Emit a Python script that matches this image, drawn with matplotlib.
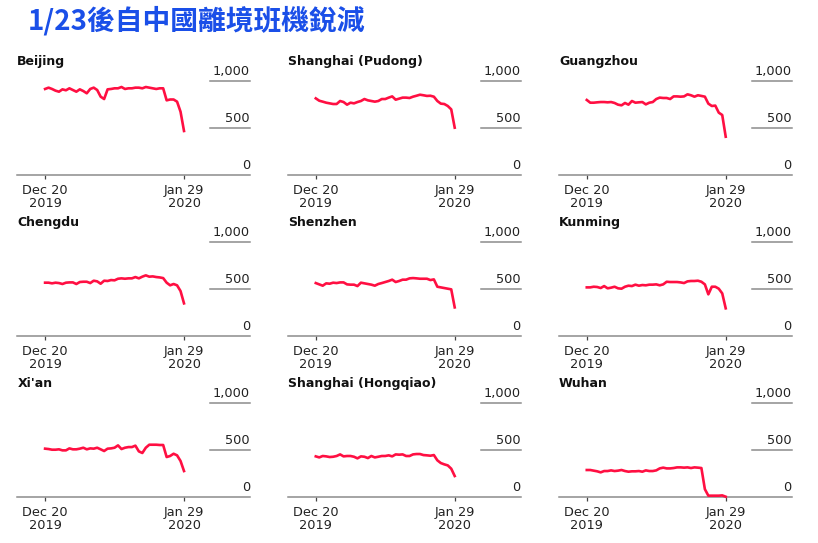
"""
Small multiples: departing flights from Chinese airports, Dec 20 2019 - Jan 29 2020.
"""

import matplotlib

matplotlib.use("Agg")
import matplotlib.pyplot as plt
import pandas as pd

# Daily departing flights
CITIES = [
    "Beijing", "Shanghai (Pudong)", "Guangzhou",
    "Chengdu", "Shenzhen", "Kunming",
    "Xi'an", "Shanghai (Hongqiao)", "Wuhan",
]

beijing = [912, 926, 912, 894, 883, 908, 898, 919, 901, 883, 908, 890, 866, 912,
           926, 901, 830, 805, 908, 912, 919, 919, 933, 912, 919, 919, 926, 926,
           919, 933, 926, 919, 912, 919, 919, 791, 800, 800, 777, 670, 465]
shanghai_pudong = [812, 787, 777, 766, 759, 752, 752, 784, 773, 745, 766, 759, 773,
                   784, 805, 791, 784, 777, 784, 805, 805, 820, 833, 798, 809, 820,
                   820, 816, 830, 840, 851, 845, 838, 840, 830, 784, 756, 752, 731,
                   695, 500]
guangzhou = [795, 766, 766, 770, 773, 773, 770, 773, 763, 745, 738, 763, 745, 784,
             766, 770, 773, 748, 766, 773, 805, 820, 816, 816, 805, 833, 833, 830,
             833, 855, 845, 830, 845, 838, 830, 756, 731, 735, 660, 635, 404]
chengdu = [564, 564, 557, 564, 560, 550, 564, 567, 567, 550, 571, 574, 574, 560,
           585, 578, 553, 585, 582, 592, 589, 606, 610, 606, 610, 610, 624, 610,
           628, 642, 628, 631, 624, 620, 613, 564, 536, 550, 536, 475, 344]
shenzhen = [560, 546, 532, 557, 553, 564, 560, 567, 567, 546, 543, 543, 528, 564,
            557, 550, 543, 532, 550, 560, 571, 582, 596, 571, 582, 596, 596, 610,
            613, 610, 606, 606, 606, 592, 599, 521, 514, 507, 500, 493, 301]
kunming = [514, 514, 521, 518, 507, 528, 504, 511, 521, 504, 500, 521, 532, 528,
           543, 532, 539, 536, 543, 543, 546, 536, 546, 574, 571, 571, 571, 567,
           560, 578, 582, 582, 585, 574, 546, 440, 521, 521, 500, 450, 291]
xian = [511, 507, 500, 500, 504, 493, 493, 514, 504, 504, 511, 521, 504, 514, 511,
        521, 504, 486, 511, 514, 521, 546, 507, 521, 528, 528, 543, 482, 465, 521,
        553, 553, 553, 550, 550, 422, 433, 457, 440, 380, 273]
shanghai_hongqiao = [429, 418, 433, 429, 422, 425, 433, 450, 429, 433, 433, 425, 408,
                     429, 425, 411, 433, 418, 425, 433, 433, 440, 429, 450, 447, 450,
                     433, 433, 450, 454, 454, 443, 440, 436, 443, 387, 358, 344, 333,
                     298, 220]
wuhan = [284, 284, 277, 270, 259, 273, 273, 280, 273, 277, 284, 273, 266, 270, 270,
         273, 266, 280, 273, 273, 280, 301, 309, 301, 301, 305, 312, 312, 309, 312,
         305, 312, 309, 305, 80, 11, 11, 11, 11, 14, 0]

SERIES = [beijing, shanghai_pudong, guangzhou, chengdu, shenzhen, kunming,
          xian, shanghai_hongqiao, wuhan]

DATES = pd.date_range("2019-12-20", "2020-01-29", freq="D")
X_TICKS = [pd.Timestamp("2019-12-20"), pd.Timestamp("2020-01-29")]
X_TICK_LABELS = ["Dec 20\n2019", "Jan 29\n2020"]
Y_TICKS = [0, 500, 1000]
Y_TICK_LABELS = ["0", "500", "1,000"]

LINE_COLOR = "#ff0f42"
GRID_COLOR = "#8c8c8c"

# Figure geometry (pixels of an 818x543 canvas)
W, H = 818, 543
COL_LEFT = [17.3, 288.0, 559.0]
ROW_BOTTOM = [174.7, 335.7, 496.7]
AX_W, AX_H = 232.7, 94.0


def main():
    plt.rcParams["font.family"] = ["DejaVu Sans"]

    fig = plt.figure(figsize=(W / 100, H / 100), dpi=100)
    fig.patch.set_facecolor("white")

    fig.text(
        28 / W, 1 - 21 / H, "1/23後自中國離境班機銳減",
        family=["Noto Sans CJK TC", "DejaVu Sans"],
        fontsize=20, fontweight="bold", color="#1a4fe8",
        ha="left", va="center",
    )

    for i, (city, values) in enumerate(zip(CITIES, SERIES)):
        row, col = divmod(i, 3)
        ax = fig.add_axes([
            COL_LEFT[col] / W,
            1 - ROW_BOTTOM[row] / H,
            AX_W / W,
            AX_H / H,
        ])

        ax.plot(DATES, values, color=LINE_COLOR, linewidth=1.9,
                solid_joinstyle="round", zorder=3, clip_on=False)

        ax.set_xlim(pd.Timestamp("2019-12-12"), pd.Timestamp("2020-02-17"))
        ax.set_ylim(0, 1000)

        # Short grid stubs on the right with labels sitting on top
        for val, lab in zip(Y_TICKS, Y_TICK_LABELS):
            if val > 0:
                ax.axhline(val, xmin=0.83, xmax=1.0, color=GRID_COLOR,
                           linewidth=1.1, clip_on=False, zorder=1)
            ax.annotate(
                lab, xy=(1.0, val), xycoords=("axes fraction", "data"),
                xytext=(0, 4.3), textcoords="offset points",
                ha="right", va="baseline", fontsize=9.3, color="#222222",
                annotation_clip=False,
            )

        ax.set_yticks([])
        ax.set_xticks(X_TICKS)
        ax.set_xticklabels(X_TICK_LABELS, fontsize=9.3, color="#222222",
                           linespacing=0.95)
        ax.tick_params(axis="x", length=3, width=0.9, color="#444444", pad=4)

        for side in ["top", "left", "right"]:
            ax.spines[side].set_visible(False)
        ax.spines["bottom"].set_color(GRID_COLOR)
        ax.spines["bottom"].set_linewidth(1.1)
        ax.patch.set_alpha(0)

        # Panel title, ~15 px above the top of the axes
        ax.annotate(
            city, xy=(0.0, 1.0), xycoords="axes fraction",
            xytext=(0, 11.2), textcoords="offset points",
            fontsize=9, fontweight="bold", color="#111111",
            ha="left", va="baseline", annotation_clip=False,
        )

    fig.savefig("out.png", dpi=100, facecolor="white")
    plt.close(fig)


if __name__ == "__main__":
    main()
